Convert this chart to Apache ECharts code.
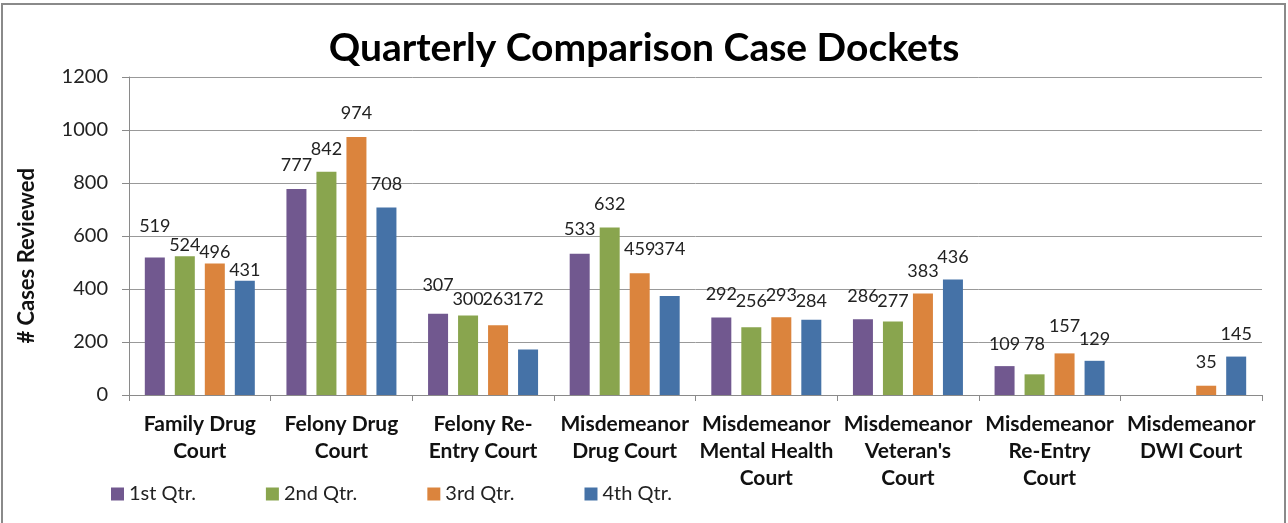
<!DOCTYPE html>
<html>
<head>
<meta charset="UTF-8">
<title>Quarterly Comparison Case Dockets</title>
<script src="https://cdn.jsdelivr.net/npm/echarts@6/dist/echarts.min.js"></script>
<style>
  html, body { margin: 0; padding: 0; background: #fff; overflow: hidden; }
  #frame {
    position: absolute; left: 1px; top: 3px; width: 1285px; height: 540px;
    border: 2px solid #8a8a8a; box-sizing: border-box;
  }
  #main { position: absolute; left: 0; top: 0; width: 1288px; height: 523px; }
</style>
</head>
<body>
<div id="frame"></div>
<div id="main"></div>
<script type="text/javascript">
  var courts = [
    'Family Drug\nCourt',
    'Felony Drug\nCourt',
    'Felony Re-\nEntry Court',
    'Misdemeanor\nDrug Court',
    'Misdemeanor\nMental Health\nCourt',
    "Misdemeanor\nVeteran's\nCourt",
    'Misdemeanor\nRe-Entry\nCourt',
    'Misdemeanor\nDWI Court'
  ];
  var quarters = ['1st Qtr.', '2nd Qtr.', '3rd Qtr.', '4th Qtr.'];
  var q1 = [519, 777, 307, 533, 292, 286, 109, null];
  var q2 = [524, 842, 300, 632, 256, 277, 78, null];
  var q3 = [496, 974, 263, 459, 293, 383, 157, 35];
  var q4 = [431, 708, 172, 374, 284, 436, 129, 145];
  var yTicks = [0, 200, 400, 600, 800, 1000, 1200];

  // how far each value label sits above its bar (the excel labels were nudged by hand)
  var labelLift = [
    [22, 15, 19, 16, 14, 14, 13, 0],
    [2, 14, 7, 14, 17, 11, 21, 0],
    [2, 15, 17, 15, 13, 13, 18, 15],
    [2, 14, 41, 38, 10, 13, 13, 13]
  ];

  var colors = ['#71588f', '#89a54e', '#db843d', '#4572a7'];
  var font = 'Lato, "Open Sans", sans-serif';

  var chart = echarts.init(document.getElementById('main'), null, { renderer: 'canvas' });

  function makeSeries(name, values, i) {
    var data = values.map(function (v, j) {
      return { value: v, label: { distance: labelLift[i][j] } };
    });
    return {
      name: name,
      type: 'bar',
      data: data,
      barWidth: 20,
      barGap: '50%',
      itemStyle: { color: colors[i] },
      label: {
        show: true,
        position: 'top',
        color: '#222',
        fontFamily: font,
        fontSize: 18
      }
    };
  }

  var options = {
    animation: false,
    color: colors,
    title: {
      text: 'Quarterly Comparison Case Dockets',
      left: 'center',
      top: 24,
      textStyle: { fontFamily: font, fontWeight: 'bold', fontSize: 39, color: '#000' }
    },
    legend: {
      data: quarters,
      left: 106,
      top: 479,
      itemWidth: 13,
      itemHeight: 13,
      itemGap: 70,
      icon: 'rect',
      textStyle: { fontFamily: font, fontSize: 20, color: '#222' }
    },
    graphic: [{
      type: 'text',
      left: 16,
      top: 168,
      rotation: Math.PI / 2,
      style: {
        text: '# Cases Reviewed',
        fontFamily: font,
        fontWeight: 'bold',
        fontSize: 22,
        fill: '#111'
      }
    }],
    grid: { left: 129, right: 26, top: 77, bottom: 128 },
    xAxis: {
      type: 'category',
      data: courts,
      axisLine: { lineStyle: { color: '#8a8a8a', width: 1 } },
      axisTick: { show: true, length: 6, lineStyle: { color: '#8a8a8a' } },
      axisLabel: {
        interval: 0,
        margin: 16,
        lineHeight: 27,
        fontFamily: font,
        fontWeight: 'bold',
        fontSize: 21,
        color: '#111'
      }
    },
    yAxis: {
      type: 'value',
      min: yTicks[0],
      max: yTicks[yTicks.length - 1],
      interval: 200,
      axisLine: { show: true, lineStyle: { color: '#8a8a8a' } },
      axisTick: { show: true, length: 7, lineStyle: { color: '#8a8a8a' } },
      splitLine: { lineStyle: { color: '#999', width: 1 } },
      axisLabel: {
        margin: 21,
        fontFamily: font,
        fontSize: 20,
        color: '#222',
        formatter: function (v) { return String(v); }
      }
    },
    series: [
      makeSeries(quarters[0], q1, 0),
      makeSeries(quarters[1], q2, 1),
      makeSeries(quarters[2], q3, 2),
      makeSeries(quarters[3], q4, 3)
    ]
  };

  chart.setOption(options);
</script>
</body>
</html>
